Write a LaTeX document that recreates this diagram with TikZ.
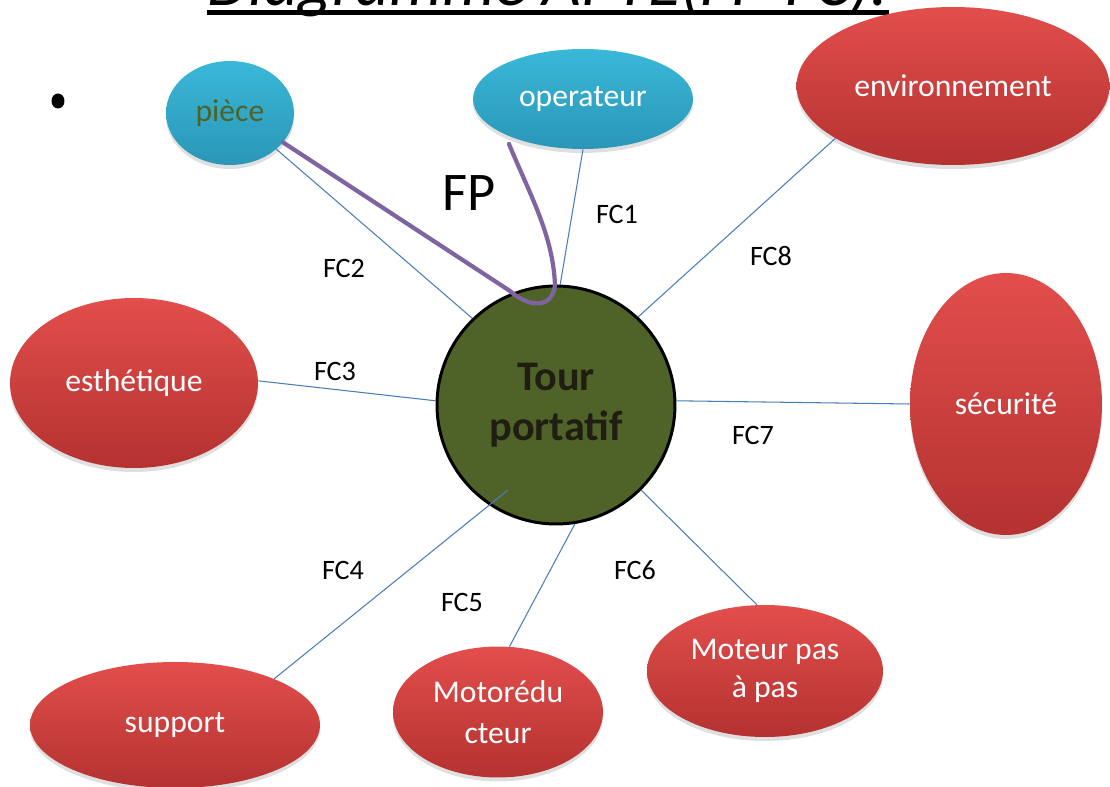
\documentclass[tikz,border=0pt]{standalone}
\usepackage{fontspec}
\setmainfont{Carlito}
\usetikzlibrary{shapes.geometric,shadows,calc}
\definecolor{rougehaut}{RGB}{226,78,76}
\definecolor{rougebas}{RGB}{180,50,48}
\definecolor{bleuhaut}{RGB}{58,184,216}
\definecolor{bleubas}{RGB}{42,150,184}
\definecolor{vertolive}{RGB}{79,98,40}
\definecolor{textetour}{RGB}{32,30,18}
\definecolor{lienbleu}{RGB}{74,126,187}
\definecolor{violet}{RGB}{128,100,162}
\begin{document}
\begin{tikzpicture}[x=0.02cm,y=-0.02cm,
		bulle/.style={ellipse,inner sep=0pt,text=white,align=center,font=\fontsize{18}{22}\selectfont,
			drop shadow={opacity=0.25,shadow xshift=0pt,shadow yshift=-0.08cm}},
		rouge/.style={bulle,top color=rougehaut,bottom color=rougebas},
		bleu/.style={bulle,top color=bleuhaut,bottom color=bleubas},
		lien/.style={draw=lienbleu,line width=0.6pt},
		fc/.style={font=\fontsize{16}{19}\selectfont}]
	\useasboundingbox[fill=white] (0,0) rectangle (1110,787);
	% titre (coupe en haut)
	\node[anchor=base,inner sep=0pt,font=\fontsize{38}{44}\selectfont\itshape] (titre) at (548,6) {Diagramme APTE(FP-FC):};
	\draw[line width=2.8pt] ($(titre.base west)+(0,6.5)$) -- ($(titre.base east)+(0,6.5)$);
	\node[ellipse,fill=black,inner sep=0pt,minimum width=0.26cm,minimum height=0.3cm] (puce) at (58,101) {};
	% elements du milieu exterieur
	\node[bleu,minimum width=2.56cm,minimum height=2.08cm,text=vertolive] (piece) at (230,113) {pièce};
	\node[bleu,minimum width=4.4cm,minimum height=2cm] (oper) at (583,99) {operateur};
	\node[rouge,minimum width=6.26cm,minimum height=3.16cm] (env) at (953,86) {environnement};
	\node[rouge,minimum width=4.96cm,minimum height=3.4cm] (esth) at (134,383) {esthétique};
	\node[rouge,minimum width=3.84cm,minimum height=5.24cm] (secu) at (1006,404) {sécurité};
	\node[rouge,minimum width=5.8cm,minimum height=2.52cm] (support) at (175,725) {support};
	\node[rouge,minimum width=4.2cm,minimum height=2.62cm,font=\fontsize{18}{23}\selectfont] (motor) at (498,712) {Motorédu\\cteur};
	\node[rouge,minimum width=4.72cm,minimum height=2.64cm,font=\fontsize{18}{22}\selectfont] (pas) at (765,671) {Moteur pas\\à pas};
	% produit
	\node[circle,draw=black,line width=1.7pt,fill=vertolive,minimum size=4.76cm,inner sep=0pt,align=center,
		text=textetour,font=\bfseries\fontsize{24}{28.5}\selectfont] (tour) at (556,405) {Tour\\portatif};
	\coordinate (c4) at (508,490);
	\coordinate (fpfin) at (509,144);
	% fonctions
	\draw[lien] (oper.south) -- (tour.88);
	\draw[lien] (piece.-38) -- (tour.134);
	\draw[lien] (env.204) -- (tour.47);
	\draw[lien] (esth.1) -- (tour.178);
	\draw[lien] (tour.2) -- (secu.180);
	\draw[lien] (support.25) -- (c4);
	\draw[lien] (motor.80) -- (tour.279);
	\draw[lien] (tour.315) -- (pas.97);
	\draw[violet,line width=2.4pt,line cap=round] (piece.-29) -- (510,291) .. controls (528,307) and (552,310) .. (555,285) .. controls (553,235) and (530,195) .. (fpfin);
	\node[font=\fontsize{31}{36}\selectfont] (fp) at (469,193) {FP};
	\node[fc] (fc1) at (617,214) {FC1};
	\node[fc] (fc2) at (344,268) {FC2};
	\node[fc] (fc3) at (335,371) {FC3};
	\node[fc] (fc4) at (343,570) {FC4};
	\node[fc] (fc5) at (462,602) {FC5};
	\node[fc] (fc6) at (635,570) {FC6};
	\node[fc] (fc7) at (753,435) {FC7};
	\node[fc] (fc8) at (771,256) {FC8};
\end{tikzpicture}
\end{document}
